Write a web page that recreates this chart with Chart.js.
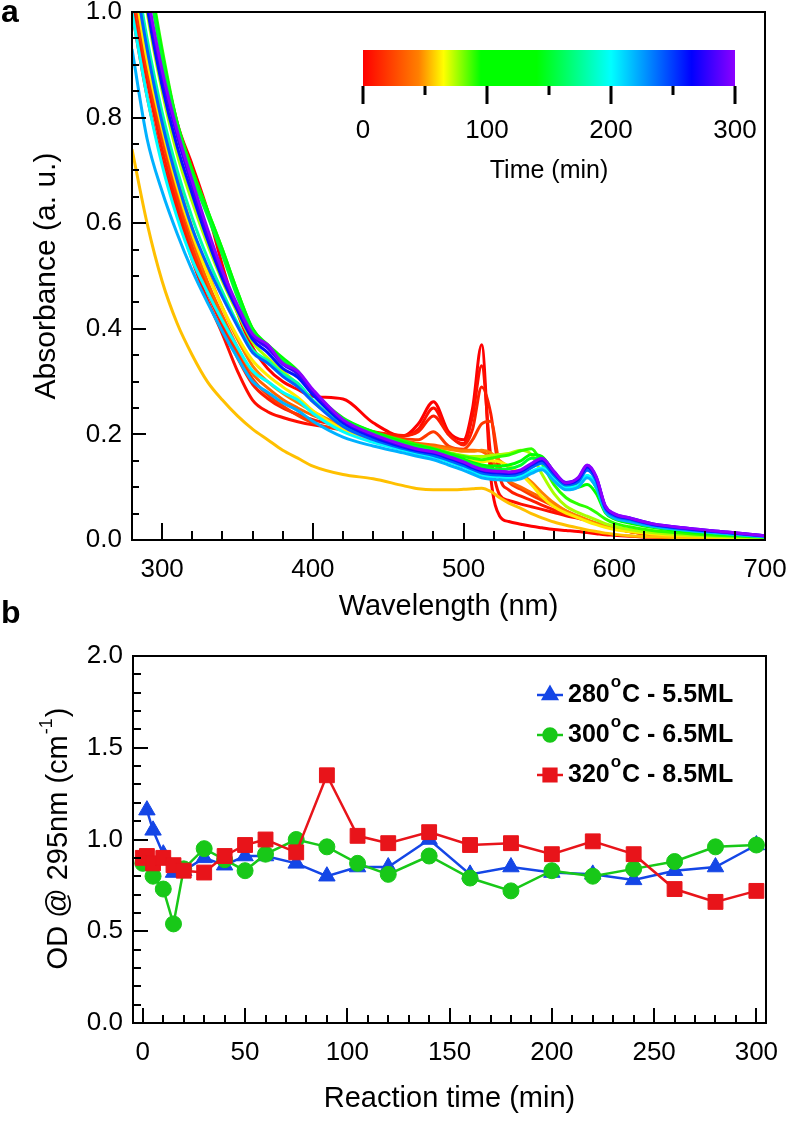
<!DOCTYPE html>
<html>
<head>
<meta charset="utf-8">
<script src="https://cdn.jsdelivr.net/npm/chart.js@4.4.0/dist/chart.umd.min.js"></script>
<style>
  html, body { margin: 0; padding: 0; background: #fff; }
  #wrap { position: relative; width: 790px; height: 1123px; }
  #chartA { position: absolute; left: 0; top: 0; }
  #chartB { position: absolute; left: 0; top: 580px; }
</style>
</head>
<body>
<div id="wrap">
  <canvas id="chartA" width="790" height="630"></canvas>
  <canvas id="chartB" width="790" height="543"></canvas>
</div>
<script>
// ---- panel a: absorption spectra ----
const wavelengths = [280, 290, 300, 310, 320, 330, 340, 350, 360, 370, 380, 390, 400, 420, 440, 460, 470, 480, 490, 500,
  506, 512, 518, 524, 530, 538, 545, 552, 560, 568, 576, 582, 588, 594, 600, 610, 625, 650, 675, 700];

const spectraTimes = [0, 5, 10, 20, 35, 45, 55, 62, 75, 90, 120, 150, 180, 200, 220, 240, 260, 280, 300];

const spectra = [
  // 0 min
  [1.30, 1.08, 0.92, 0.79, 0.71, 0.625, 0.52, 0.43, 0.365, 0.325, 0.30, 0.285, 0.272, 0.267, 0.222, 0.197, 0.22, 0.262, 0.205, 0.19,
   0.25, 0.37, 0.12, 0.045, 0.035, 0.03, 0.026, 0.023, 0.02, 0.018, 0.016, 0.014, 0.012, 0.01, 0.009, 0.007, 0.005, 0.004, 0.003, 0.002],
  // 5 min
  [1.00, 0.84, 0.72, 0.62, 0.53, 0.455, 0.39, 0.32, 0.265, 0.243, 0.232, 0.224, 0.218, 0.21, 0.203, 0.197, 0.21, 0.25, 0.20, 0.183,
   0.235, 0.33, 0.16, 0.085, 0.075, 0.068, 0.063, 0.058, 0.052, 0.046, 0.041, 0.037, 0.031, 0.026, 0.022, 0.016, 0.011, 0.007, 0.004, 0.003],
  // 10 min
  [1.02, 0.87, 0.74, 0.635, 0.545, 0.47, 0.405, 0.345, 0.295, 0.268, 0.25, 0.238, 0.228, 0.215, 0.205, 0.198, 0.205, 0.235, 0.20, 0.18,
   0.21, 0.29, 0.24, 0.12, 0.095, 0.083, 0.075, 0.066, 0.057, 0.049, 0.042, 0.037, 0.031, 0.026, 0.022, 0.016, 0.011, 0.007, 0.005, 0.003],
  // 20 min
  [1.05, 0.89, 0.76, 0.65, 0.555, 0.48, 0.415, 0.355, 0.305, 0.275, 0.254, 0.236, 0.222, 0.208, 0.20, 0.192, 0.19, 0.205, 0.178, 0.172,
   0.19, 0.22, 0.225, 0.14, 0.11, 0.096, 0.085, 0.075, 0.064, 0.052, 0.043, 0.037, 0.031, 0.026, 0.022, 0.016, 0.011, 0.007, 0.005, 0.003],
  // 35 min
  [1.08, 0.91, 0.775, 0.665, 0.57, 0.49, 0.425, 0.365, 0.315, 0.288, 0.266, 0.25, 0.236, 0.215, 0.20, 0.188, 0.183, 0.18, 0.175, 0.17,
   0.17, 0.168, 0.155, 0.13, 0.112, 0.10, 0.09, 0.08, 0.068, 0.055, 0.045, 0.038, 0.032, 0.027, 0.022, 0.016, 0.011, 0.007, 0.005, 0.003],
  // 45 min
  [1.12, 0.94, 0.80, 0.685, 0.59, 0.51, 0.44, 0.38, 0.33, 0.30, 0.278, 0.26, 0.243, 0.216, 0.198, 0.185, 0.18, 0.176, 0.172, 0.168,
   0.168, 0.17, 0.165, 0.15, 0.138, 0.125, 0.11, 0.09, 0.07, 0.055, 0.045, 0.038, 0.032, 0.027, 0.022, 0.017, 0.012, 0.008, 0.005, 0.003],
  // 55 min
  [0.74, 0.60, 0.49, 0.41, 0.35, 0.30, 0.265, 0.235, 0.21, 0.19, 0.17, 0.155, 0.14, 0.124, 0.116, 0.103, 0.097, 0.095, 0.095, 0.096,
   0.097, 0.098, 0.092, 0.08, 0.07, 0.06, 0.05, 0.042, 0.034, 0.028, 0.023, 0.019, 0.016, 0.013, 0.011, 0.008, 0.006, 0.004, 0.003, 0.002],
  // 62 min
  [1.08, 0.91, 0.78, 0.67, 0.58, 0.505, 0.44, 0.385, 0.34, 0.312, 0.29, 0.27, 0.245, 0.21, 0.19, 0.175, 0.17, 0.165, 0.158, 0.152,
   0.15, 0.148, 0.15, 0.148, 0.14, 0.125, 0.105, 0.082, 0.063, 0.051, 0.042, 0.035, 0.029, 0.024, 0.02, 0.016, 0.012, 0.008, 0.005, 0.003],
  // 75 min
  [1.20, 1.00, 0.85, 0.73, 0.64, 0.56, 0.49, 0.43, 0.375, 0.345, 0.32, 0.295, 0.262, 0.222, 0.20, 0.185, 0.178, 0.172, 0.166, 0.16,
   0.158, 0.158, 0.16, 0.162, 0.164, 0.17, 0.162, 0.125, 0.088, 0.064, 0.052, 0.045, 0.038, 0.031, 0.026, 0.02, 0.014, 0.009, 0.006, 0.004],
  // 90 min
  [1.30, 1.10, 0.93, 0.79, 0.70, 0.625, 0.55, 0.47, 0.40, 0.367, 0.342, 0.313, 0.278, 0.229, 0.205, 0.188, 0.18, 0.173, 0.165, 0.158,
   0.155, 0.152, 0.155, 0.158, 0.161, 0.169, 0.173, 0.145, 0.105, 0.08, 0.068, 0.062, 0.052, 0.04, 0.032, 0.025, 0.018, 0.012, 0.008, 0.005],
  // 120 min
  [1.32, 1.10, 0.92, 0.79, 0.70, 0.625, 0.55, 0.47, 0.40, 0.37, 0.345, 0.32, 0.282, 0.231, 0.205, 0.185, 0.178, 0.172, 0.163, 0.153,
   0.147, 0.142, 0.14, 0.14, 0.142, 0.15, 0.162, 0.158, 0.128, 0.105, 0.10, 0.105, 0.088, 0.052, 0.04, 0.032, 0.024, 0.015, 0.01, 0.006],
  // 150 min
  [1.30, 1.08, 0.91, 0.785, 0.69, 0.615, 0.54, 0.46, 0.395, 0.365, 0.34, 0.316, 0.279, 0.229, 0.202, 0.182, 0.175, 0.169, 0.16, 0.15,
   0.144, 0.138, 0.135, 0.134, 0.135, 0.142, 0.155, 0.155, 0.128, 0.105, 0.106, 0.12, 0.10, 0.056, 0.043, 0.035, 0.026, 0.017, 0.011, 0.006],
  // 180 min
  [1.12, 0.95, 0.81, 0.70, 0.61, 0.535, 0.47, 0.41, 0.36, 0.34, 0.315, 0.297, 0.265, 0.218, 0.193, 0.175, 0.168, 0.162, 0.153, 0.143,
   0.136, 0.13, 0.126, 0.125, 0.124, 0.128, 0.138, 0.145, 0.12, 0.10, 0.102, 0.122, 0.10, 0.055, 0.043, 0.036, 0.027, 0.018, 0.012, 0.006],
  // 200 min
  [1.00, 0.84, 0.71, 0.61, 0.53, 0.47, 0.415, 0.365, 0.32, 0.30, 0.28, 0.265, 0.24, 0.205, 0.185, 0.17, 0.163, 0.157, 0.148, 0.138,
   0.13, 0.123, 0.12, 0.119, 0.118, 0.121, 0.13, 0.137, 0.115, 0.098, 0.103, 0.122, 0.104, 0.058, 0.044, 0.037, 0.028, 0.019, 0.013, 0.007],
  // 220 min
  [0.93, 0.76, 0.66, 0.58, 0.51, 0.45, 0.395, 0.345, 0.30, 0.28, 0.26, 0.245, 0.225, 0.195, 0.178, 0.165, 0.158, 0.152, 0.142, 0.132,
   0.125, 0.118, 0.115, 0.114, 0.113, 0.116, 0.126, 0.133, 0.112, 0.095, 0.10, 0.118, 0.10, 0.055, 0.042, 0.035, 0.026, 0.018, 0.012, 0.006],
  // 240 min
  [1.10, 0.93, 0.79, 0.68, 0.59, 0.52, 0.46, 0.405, 0.355, 0.335, 0.31, 0.29, 0.262, 0.215, 0.19, 0.173, 0.166, 0.16, 0.151, 0.141,
   0.134, 0.127, 0.124, 0.123, 0.122, 0.126, 0.137, 0.146, 0.123, 0.104, 0.11, 0.132, 0.112, 0.06, 0.046, 0.039, 0.029, 0.02, 0.014, 0.007],
  // 260 min
  [1.20, 1.01, 0.86, 0.745, 0.655, 0.57, 0.495, 0.435, 0.38, 0.355, 0.325, 0.308, 0.275, 0.222, 0.195, 0.176, 0.169, 0.164, 0.155, 0.145,
   0.137, 0.131, 0.128, 0.127, 0.126, 0.13, 0.142, 0.151, 0.127, 0.107, 0.115, 0.138, 0.117, 0.063, 0.048, 0.041, 0.03, 0.021, 0.014, 0.008],
  // 280 min
  [1.23, 1.03, 0.88, 0.765, 0.67, 0.58, 0.505, 0.44, 0.386, 0.364, 0.333, 0.315, 0.281, 0.226, 0.198, 0.178, 0.171, 0.166, 0.157, 0.147,
   0.139, 0.133, 0.13, 0.129, 0.128, 0.132, 0.144, 0.154, 0.129, 0.109, 0.117, 0.141, 0.119, 0.064, 0.049, 0.042, 0.031, 0.022, 0.015, 0.008],
  // 300 min
  [1.25, 1.04, 0.89, 0.775, 0.68, 0.59, 0.51, 0.445, 0.39, 0.37, 0.335, 0.32, 0.285, 0.228, 0.20, 0.18, 0.172, 0.167, 0.158, 0.148,
   0.14, 0.134, 0.131, 0.13, 0.129, 0.133, 0.145, 0.155, 0.13, 0.108, 0.118, 0.142, 0.12, 0.065, 0.05, 0.042, 0.031, 0.022, 0.015, 0.008]
];

const wavelengthTicks = [300, 400, 500, 600, 700];
const absorbanceTicks = [0, 0.2, 0.4, 0.6, 0.8, 1.0];
const colorbarTicks = [0, 100, 200, 300];
const colorbarMinorTicks = [50, 150, 250];

// rainbow colour map used for the spectra and the colour bar (time in min -> rgb)
const colormap = [
  [0, [255, 0, 0]], [45, [255, 128, 0]], [65, [255, 255, 0]], [95, [0, 255, 0]],
  [140, [0, 255, 0]], [200, [0, 255, 255]], [265, [0, 0, 255]], [300, [140, 0, 255]]
];

// ---- panel b: OD at 295 nm ----
const reactionTimes = [0, 2, 5, 10, 15, 20, 30, 40, 50, 60, 75, 90, 105, 120, 140, 160, 180, 200, 220, 240, 260, 280, 300];
const od280 = [null, 1.16, 1.05, 0.92, 0.82, 0.83, 0.90, 0.86, 0.91, 0.91, 0.87, 0.80, 0.85, 0.85, 1.00, 0.81, 0.85, 0.82, 0.81, 0.78, 0.83, 0.85, 0.97];
const od300 = [0.87, null, 0.80, 0.73, 0.54, 0.84, 0.95, 0.89, 0.83, 0.92, 1.00, 0.96, 0.87, 0.81, 0.91, 0.79, 0.72, 0.83, 0.80, 0.84, 0.88, 0.96, 0.97];
const od320 = [0.90, 0.91, 0.87, 0.90, 0.86, 0.83, 0.82, 0.91, 0.97, 1.00, 0.93, 1.35, 1.02, 0.98, 1.04, 0.97, 0.98, 0.92, 0.99, 0.92, 0.73, 0.66, 0.72];

const seriesTemps = ['280', '300', '320'];
const seriesLayers = ['5.5ML', '6.5ML', '8.5ML'];
const timeTicks = [0, 50, 100, 150, 200, 250, 300];
const odTicks = [0, 0.5, 1.0, 1.5, 2.0];

const FAMILY = "'Liberation Sans', Arial, Helvetica, sans-serif";
Chart.defaults.font.family = FAMILY;
Chart.defaults.color = '#000';

function timeColor(t) {
  for (let k = 1; k < colormap.length; k++) {
    const [t0, c0] = colormap[k - 1];
    const [t1, c1] = colormap[k];
    if (t <= t1) {
      const f = (t - t0) / (t1 - t0);
      return 'rgb(' + c0.map((c, i) => Math.round(c + (c1[i] - c) * f)).join(',') + ')';
    }
  }
  return 'rgb(140,0,255)';
}

// frame round the plot area + inward major/minor ticks on the left and bottom axes
const frameTicks = {
  id: 'frameTicks',
  afterDatasetsDraw(chart, args, o) {
    const { ctx, chartArea: a, scales } = chart;
    ctx.save();
    ctx.strokeStyle = '#000';
    ctx.lineWidth = 2;
    ctx.beginPath();
    ['x', 'y'].forEach(id => {
      const s = scales[id];
      const t = o[id];
      const first = Math.ceil(s.min / t.minor - 1e-6);
      const last = Math.floor(s.max / t.minor + 1e-6);
      for (let i = first; i <= last; i++) {
        const v = i * t.minor;
        const r = v / t.major;
        const len = Math.abs(r - Math.round(r)) < 1e-6 ? t.majorLen : t.minorLen;
        const p = Math.round(s.getPixelForValue(v));
        if (id === 'x') { ctx.moveTo(p, a.bottom); ctx.lineTo(p, a.bottom - len); }
        else { ctx.moveTo(a.left, p); ctx.lineTo(a.left + len, p); }
      }
    });
    ctx.stroke();
    ctx.strokeRect(a.left, a.top, a.right - a.left, a.bottom - a.top);
    ctx.restore();
  }
};

const panelLetter = {
  id: 'panelLetter',
  afterDraw(chart, args, o) {
    const { ctx } = chart;
    ctx.save();
    ctx.fillStyle = '#000';
    ctx.font = 'bold 32px ' + FAMILY;
    ctx.textBaseline = 'alphabetic';
    ctx.fillText(o.text, o.x, o.y);
    ctx.restore();
  }
};

const colorbar = {
  id: 'colorbar',
  afterDraw(chart, args, o) {
    const { ctx } = chart;
    const span = colorbarTicks[colorbarTicks.length - 1] - colorbarTicks[0];
    const px = v => o.left + (v - colorbarTicks[0]) / span * o.width;
    ctx.save();
    const g = ctx.createLinearGradient(o.left, 0, o.left + o.width, 0);
    colormap.forEach(([t, c]) => g.addColorStop(t / span, 'rgb(' + c.join(',') + ')'));
    ctx.fillStyle = g;
    ctx.fillRect(o.left, o.top, o.width, o.height);
    ctx.strokeStyle = '#000';
    ctx.lineWidth = 3;
    ctx.beginPath();
    colorbarTicks.forEach(v => { ctx.moveTo(px(v), o.top + o.height); ctx.lineTo(px(v), o.top + o.height + 18); });
    colorbarMinorTicks.forEach(v => { ctx.moveTo(px(v), o.top + o.height); ctx.lineTo(px(v), o.top + o.height + 9); });
    ctx.stroke();
    ctx.fillStyle = '#000';
    ctx.font = '26px ' + FAMILY;
    ctx.textAlign = 'center';
    ctx.textBaseline = 'middle';
    colorbarTicks.forEach(v => ctx.fillText(String(v), px(v), o.top + o.height + 45));
    ctx.font = '25px ' + FAMILY;
    ctx.fillText('Time (min)', o.left + o.width / 2, o.top + o.height + 85);
    ctx.restore();
  }
};

const seriesColors = ['#1446e6', '#18c818', '#e8141a'];
const seriesMarkers = ['triangle', 'circle', 'rect'];
const seriesRadius = [9.5, 8, 10.5];

const panelBText = {
  id: 'panelBText',
  afterDraw(chart) {
    const { ctx, chartArea: a } = chart;
    ctx.save();
    // y title with superscript
    ctx.fillStyle = '#000';
    ctx.translate(59, (a.top + a.bottom) / 2);
    ctx.rotate(-Math.PI / 2);
    ctx.textBaseline = 'middle';
    ctx.textAlign = 'left';
    const big = '29px ' + FAMILY, small = '18px ' + FAMILY;
    ctx.font = big;
    const w1 = ctx.measureText('OD @ 295nm (cm').width;
    const w3 = ctx.measureText(')').width;
    ctx.font = small;
    const w2 = ctx.measureText('-1').width;
    let x = -(w1 + w2 + w3) / 2;
    ctx.font = big; ctx.fillText('OD @ 295nm (cm', x, 0); x += w1;
    ctx.font = small; ctx.fillText('-1', x + 1, -12); x += w2 + 2;
    ctx.font = big; ctx.fillText(')', x, 0);
    ctx.restore();

    // legend
    ctx.save();
    seriesTemps.forEach((temp, i) => {
      const y = a.top + 39 + i * 40;
      ctx.strokeStyle = seriesColors[i];
      ctx.fillStyle = seriesColors[i];
      ctx.lineWidth = 2.5;
      ctx.beginPath(); ctx.moveTo(537, y); ctx.lineTo(563, y); ctx.stroke();
      Chart.helpers.drawPoint(ctx, { pointStyle: seriesMarkers[i], radius: seriesRadius[i] - 1.5, rotation: 0, borderWidth: 1 }, 550, y);
      ctx.fillStyle = '#000';
      ctx.textBaseline = 'middle';
      ctx.textAlign = 'left';
      let x = 568;
      ctx.font = 'bold 25px ' + FAMILY;
      ctx.fillText(temp, x, y); x += ctx.measureText(temp).width + 1;
      ctx.font = 'bold 17px ' + FAMILY;
      ctx.fillText('o', x, y - 13); x += ctx.measureText('o').width + 1;
      ctx.font = 'bold 25px ' + FAMILY;
      ctx.fillText('C - ' + seriesLayers[i], x, y);
    });
    ctx.restore();
  }
};

function fixedTicks(values) {
  return s => { s.ticks = values.map(v => ({ value: v })); };
}

// ---- chart a ----
new Chart(document.getElementById('chartA'), {
  type: 'line',
  data: {
    datasets: spectraTimes.map((t, i) => ({
      label: t + ' min',
      data: wavelengths.map((w, j) => ({ x: w, y: spectra[i][j] })),
      borderColor: timeColor(t),
      borderWidth: 3,
      pointRadius: 0,
      cubicInterpolationMode: 'monotone',
      order: spectraTimes.length - i
    }))
  },
  options: {
    responsive: false,
    animation: false,
    layout: { padding: { top: 12, right: 25, left: 0, bottom: 0 } },
    plugins: {
      legend: { display: false },
      tooltip: { enabled: false },
      frameTicks: {
        x: { major: 100, minor: 20, majorLen: 17, minorLen: 9 },
        y: { major: 0.2, minor: 0.05, majorLen: 14, minorLen: 7 }
      },
      colorbar: { left: 363, top: 50, width: 372, height: 36 },
      panelLetter: { text: 'a', x: 1, y: 22 }
    },
    scales: {
      x: {
        type: 'linear', min: 280, max: 700,
        afterBuildTicks: fixedTicks(wavelengthTicks),
        afterFit: s => { s.height = 90; s.paddingLeft = 0; s.paddingRight = 0; },
        grid: { display: false, drawTicks: false },
        border: { display: false },
        ticks: { color: '#000', font: { size: 26 }, padding: 14, maxRotation: 0 },
        title: { display: true, text: 'Wavelength (nm)', color: '#000', font: { size: 29 }, padding: { top: 0, bottom: 6 } }
      },
      y: {
        type: 'linear', min: 0, max: 1,
        afterBuildTicks: fixedTicks(absorbanceTicks),
        afterFit: s => { s.width = 132; s.paddingTop = 0; s.paddingBottom = 0; },
        grid: { display: false, drawTicks: false },
        border: { display: false },
        ticks: { color: '#000', font: { size: 26 }, padding: 10, callback: v => v.toFixed(1) },
        title: { display: true, text: 'Absorbance (a. u.)', color: '#000', font: { size: 30 }, padding: { top: 29, bottom: 0 } }
      }
    }
  },
  plugins: [frameTicks, colorbar, panelLetter]
});

// ---- chart b ----
const odSeries = [od280, od300, od320];
new Chart(document.getElementById('chartB'), {
  type: 'line',
  data: {
    datasets: odSeries.map((vals, i) => ({
      label: seriesTemps[i] + '°C - ' + seriesLayers[i],
      data: reactionTimes.map((t, j) => ({ x: t, y: vals[j] })),
      borderColor: seriesColors[i],
      backgroundColor: seriesColors[i],
      borderWidth: 2.5,
      pointStyle: seriesMarkers[i],
      pointRadius: seriesRadius[i],
      pointBorderWidth: 1,
      spanGaps: true,
      clip: false,
      order: odSeries.length - i
    }))
  },
  options: {
    responsive: false,
    animation: false,
    layout: { padding: { top: 76, right: 24, left: 0, bottom: 0 } },
    plugins: {
      legend: { display: false },
      tooltip: { enabled: false },
      frameTicks: {
        x: { major: 50, minor: 10, majorLen: 15, minorLen: 8 },
        y: { major: 0.5, minor: 0.1, majorLen: 15, minorLen: 8 }
      },
      panelLetter: { text: 'b', x: 1, y: 43 }
    },
    scales: {
      x: {
        type: 'linear', min: -4.8, max: 304.7,
        afterBuildTicks: fixedTicks(timeTicks),
        afterFit: s => { s.height = 100; s.paddingLeft = 0; s.paddingRight = 0; },
        grid: { display: false, drawTicks: false },
        border: { display: false },
        ticks: { color: '#000', font: { size: 26 }, padding: 14, maxRotation: 0 },
        title: { display: true, text: 'Reaction time (min)', color: '#000', font: { size: 29 }, padding: { top: 0, bottom: 7 } }
      },
      y: {
        type: 'linear', min: 0, max: 2,
        afterBuildTicks: fixedTicks(odTicks),
        afterFit: s => { s.width = 133; s.paddingTop = 0; s.paddingBottom = 0; },
        grid: { display: false, drawTicks: false },
        border: { display: false },
        ticks: { color: '#000', font: { size: 26 }, padding: 10, callback: v => v.toFixed(1) },
        title: { display: false }
      }
    }
  },
  plugins: [frameTicks, panelBText, panelLetter]
});
</script>
</body>
</html>
